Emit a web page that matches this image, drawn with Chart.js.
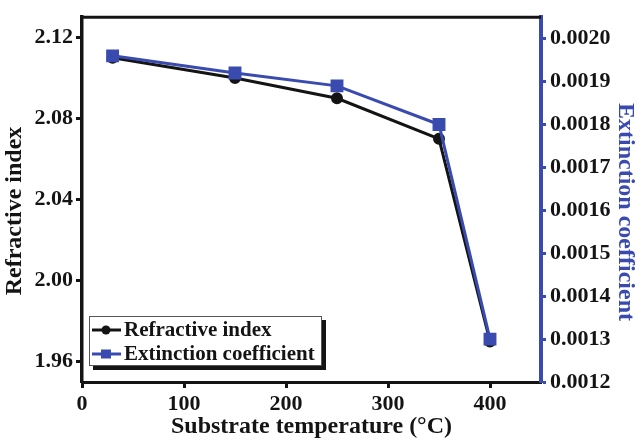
<!DOCTYPE html>
<html>
<head>
<meta charset="utf-8">
<script src="https://cdn.jsdelivr.net/npm/chart.js@4/dist/chart.umd.min.js"></script>
<style>
  html, body { margin: 0; padding: 0; background: #ffffff; }
  #wrap { width: 639px; height: 442px; position: relative; }
</style>
</head>
<body>
<div id="wrap"><canvas id="c" width="639" height="442"></canvas></div>
<script>
// ---- data ----
const temperatures = [30, 150, 250, 350, 400];
const refractiveIndex = [2.11, 2.10, 2.09, 2.07, 1.97];
const extinctionCoeff = [0.00196, 0.00192, 0.00189, 0.00180, 0.00130];
const xTicks = [0, 100, 200, 300, 400];
const leftTicks = [1.96, 2.00, 2.04, 2.08, 2.12];
const rightTicks = [0.0012, 0.0013, 0.0014, 0.0015, 0.0016, 0.0017, 0.0018, 0.0019, 0.0020];
const seriesNames = ['Refractive index', 'Extinction coefficient'];
const axisTitles = { x: 'Substrate temperature (\u00B0C)', left: 'Refractive index', right: 'Extinction coefficient' };

const BLUE = '#3a4bb0';
const BLACK = '#141414';
const FONT = '"Liberation Serif", "Times New Roman", serif';

const framePlugin = {
  id: 'frame',
  afterDraw(chart) {
    const ctx = chart.ctx;
    const a = chart.chartArea;
    ctx.save();
    // top border
    ctx.strokeStyle = BLACK;
    ctx.lineWidth = 3;
    ctx.beginPath();
    ctx.moveTo(a.left - 1.5, a.top);
    ctx.lineTo(a.right, a.top);
    ctx.stroke();

    // vertical axis titles
    ctx.font = 'bold 24px ' + FONT;
    ctx.textAlign = 'center';
    ctx.textBaseline = 'middle';
    ctx.fillStyle = BLACK;
    ctx.save();
    ctx.translate(15, 211);
    ctx.rotate(-Math.PI / 2);
    ctx.fillText(axisTitles.left, 0, 0);
    ctx.restore();
    ctx.fillStyle = BLUE;
    ctx.save();
    ctx.translate(625, 212);
    ctx.rotate(Math.PI / 2);
    ctx.fillText(axisTitles.right, 0, 0);
    ctx.restore();

    // legend box
    const bx = a.left + 7, by = 316, bw = 233, bh = 50;
    ctx.fillStyle = BLACK;
    ctx.fillRect(bx + 4, by + bh, bw, 4);
    ctx.fillRect(bx + bw, by + 4, 4, bh);
    ctx.fillStyle = '#ffffff';
    ctx.fillRect(bx, by, bw, bh);
    ctx.strokeStyle = '#555555';
    ctx.lineWidth = 1;
    ctx.strokeRect(bx + 0.5, by + 0.5, bw - 1, bh - 1);

    const rows = [
      { name: seriesNames[0], color: BLACK, style: 'circle', y: by + 14 },
      { name: seriesNames[1], color: BLUE, style: 'rect', y: by + 38 }
    ];
    rows.forEach(r => {
      ctx.strokeStyle = r.color;
      ctx.lineWidth = 3;
      ctx.beginPath();
      ctx.moveTo(bx + 3, r.y);
      ctx.lineTo(bx + 32, r.y);
      ctx.stroke();
      ctx.fillStyle = r.color;
      if (r.style === 'circle') {
        ctx.beginPath();
        ctx.arc(bx + 17, r.y, 4.5, 0, Math.PI * 2);
        ctx.fill();
      } else {
        ctx.fillRect(bx + 12, r.y - 4.5, 10, 9);
      }
      ctx.fillStyle = BLACK;
      ctx.font = 'bold 21px ' + FONT;
      ctx.textAlign = 'left';
      ctx.textBaseline = 'middle';
      ctx.fillText(r.name, bx + 35, r.y + 1);
    });
    ctx.restore();
  }
};

new Chart(document.getElementById('c'), {
  type: 'line',
  data: {
    datasets: [
      {
        label: seriesNames[0],
        data: temperatures.map((t, i) => ({ x: t, y: refractiveIndex[i] })),
        yAxisID: 'y',
        borderColor: BLACK,
        backgroundColor: BLACK,
        borderWidth: 3,
        pointStyle: 'circle',
        pointRadius: 4.5,
        pointHoverRadius: 4.5,
        tension: 0,
        order: 2
      },
      {
        label: seriesNames[1],
        data: temperatures.map((t, i) => ({ x: t, y: extinctionCoeff[i] })),
        yAxisID: 'y1',
        borderColor: BLUE,
        backgroundColor: BLUE,
        borderWidth: 3,
        pointStyle: 'rect',
        pointRadius: 7,
        pointHoverRadius: 7,
        tension: 0,
        order: 1
      }
    ]
  },
  options: {
    responsive: false,
    animation: false,
    events: [],
    layout: { padding: { top: 11, left: 0, right: 0, bottom: 0 } },
    plugins: { legend: { display: false }, tooltip: { enabled: false } },
    scales: {
      x: {
        type: 'linear',
        min: 0,
        max: 450,
        afterBuildTicks: s => { s.ticks = xTicks.map(v => ({ value: v })); },
        afterFit: s => { s.height = 60; },
        grid: { display: true, drawOnChartArea: false, tickLength: 6, tickWidth: 3, tickColor: BLACK },
        border: { display: true, color: BLACK, width: 3 },
        ticks: { color: BLACK, padding: 3, font: { family: FONT, size: 22, weight: 'bold' }, maxRotation: 0 },
        title: { display: true, text: axisTitles.x, color: BLACK, padding: { top: 0, bottom: 1 }, font: { family: FONT, size: 24, weight: 'bold' } }
      },
      y: {
        type: 'linear',
        position: 'left',
        min: 1.95,
        max: 2.13,
        afterBuildTicks: s => { s.ticks = leftTicks.map(v => ({ value: v })); },
        afterFit: s => { s.width = 82; },
        grid: { display: true, drawOnChartArea: false, tickLength: 6, tickWidth: 3, tickColor: BLACK },
        border: { display: true, color: BLACK, width: 3.5 },
        ticks: { color: BLACK, padding: 3, font: { family: FONT, size: 22, weight: 'bold' }, callback: v => v.toFixed(2) },
        title: { display: false }
      },
      y1: {
        type: 'linear',
        position: 'right',
        min: 0.0012,
        max: 0.00205,
        afterBuildTicks: s => { s.ticks = rightTicks.map(v => ({ value: v })); },
        afterFit: s => { s.width = 98; },
        grid: { display: true, drawOnChartArea: false, tickLength: 5, tickWidth: 3, tickColor: BLUE },
        border: { display: true, color: BLUE, width: 4 },
        ticks: { color: BLACK, padding: 4, font: { family: FONT, size: 22, weight: 'bold' }, callback: v => v.toFixed(4) },
        title: { display: false }
      }
    }
  },
  plugins: [framePlugin]
});
</script>
</body>
</html>
